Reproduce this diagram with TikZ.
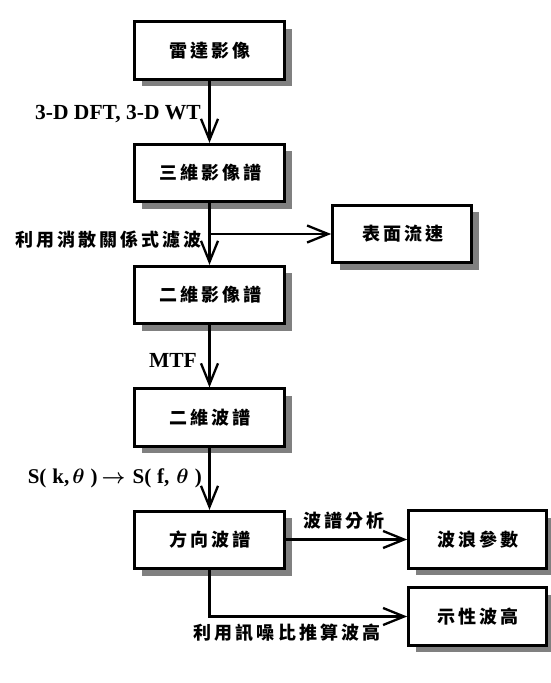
\documentclass[tikz,border=0pt]{standalone}
\usepackage{fontspec}
\setmainfont{Liberation Serif}
\newfontfamily\cjk{Noto Sans CJK TC}[LetterSpace=17]
\usetikzlibrary{arrows.meta,shadows}
\newcommand\cjt[1]{\kern1.5pt #1}
\begin{document}
\begin{tikzpicture}[x=1pt,y=-1pt,
  box/.style={draw, line width=2.7pt, fill=white, minimum width=150pt, minimum height=57.5pt, inner sep=0pt,
    font=\cjk\bfseries\fontsize{18}{18}\selectfont,
    drop shadow={shadow xshift=7pt, shadow yshift=-7pt, fill=black!50, opacity=1}},
  conn/.style={line width=2.3pt, -{Straight Barb[length=21pt,width=17pt,line width=2.3pt]}},
  lat/.style={font=\bfseries\boldmath\fontsize{21.5}{21.5}\selectfont, inner sep=0pt},
  cjklab/.style={font=\cjk\bfseries\fontsize{18}{18}\selectfont, inner sep=0pt}]
\useasboundingbox[fill=white] (0,0) rectangle (551,683);
% main column
\node[box] (b1) at (209.5,50.5) {\cjt{雷達影像}};
\node[box] (b2) at (209.5,173) {\cjt{三維影像譜}};
\node[box] (b3) at (209.5,295) {\cjt{二維影像譜}};
\node[box] (b4) at (209.5,417.5) {\cjt{二維波譜}};
\node[box] (b5) at (209.5,540) {\cjt{方向波譜}};
% side boxes
\node[box, minimum width=139pt] (s1) at (402,234) {\cjt{表面流速}};
\node[box, minimum width=138pt] (s2) at (477.5,539.5) {\cjt{波浪參數}};
\node[box, minimum width=138pt] (s3) at (477.5,616.5) {\cjt{示性波高}};
% connectors
\draw[conn] (b1.south) -- (b2.north);
\draw[conn] (b2.south) -- (b3.north);
\coordinate (br) at (b2.south |- s1.west);
\draw[conn] (br) -- (s1.west);
\draw[conn] (b3.south) -- (b4.north);
\draw[conn] (b4.south) -- (b5.north);
\draw[conn] (b5.east |- s2.west) -- (s2.west);
\draw[conn] (b5.south) |- (s3.west);
% labels
\node[lat, anchor=east] (l1) at (201,114) {3-D DFT, 3-D WT};
\node[cjklab, anchor=east] (l2) at (202,240) {利用消散關係式濾波};
\node[lat, anchor=east] (l3) at (197,360) {MTF};
\node[lat, anchor=east, font=\bfseries\boldmath\fontsize{21}{21}\selectfont] (l4) at (202,478)
  {S(\kern6pt k,\kern3pt$\theta$\kern6pt)\kern4pt$\rightarrow$\kern7pt S(\kern6pt f,\kern7pt$\theta$\kern6pt)};
\node[cjklab] (l5) at (344,521) {波譜分析};
\node[cjklab] (l6) at (287,633) {利用訊噪比推算波高};
\end{tikzpicture}
\end{document}
